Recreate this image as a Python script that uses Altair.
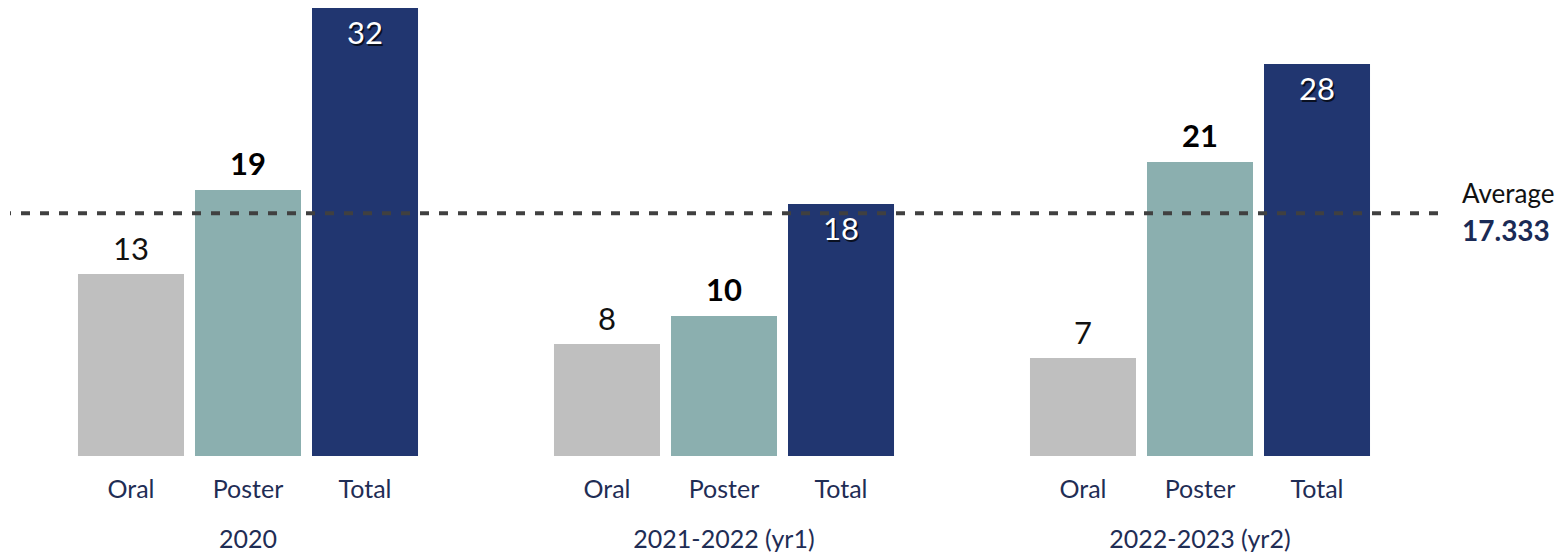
import altair as alt
import pandas as pd

years = ["2020", "2021-2022 (yr1)", "2022-2023 (yr2)"]
types = ["Oral", "Poster", "Total"]
oral = [13, 8, 7]
poster = [19, 10, 21]
total = [32, 18, 28]
average = 17.333

rows = []
for i, yr in enumerate(years):
    rows.append({"year": yr, "type": "Oral", "value": oral[i]})
    rows.append({"year": yr, "type": "Poster", "value": poster[i]})
    rows.append({"year": yr, "type": "Total", "value": total[i]})
df = pd.DataFrame(rows)
df["avg"] = average

NAVY = "#213670"
LABEL_NAVY = "#1f2d55"
FONT = "Lato"

x = alt.X("type:N", sort=types, title=None,
          scale=alt.Scale(paddingInner=0.094, paddingOuter=0.581),
          axis=alt.Axis(labelAngle=0, domain=False, ticks=False, labelPadding=21,
                        labelFontSize=25, labelColor=LABEL_NAVY, labelFont=FONT))
y = alt.Y("value:Q", scale=alt.Scale(domain=[0, 32], nice=False), axis=None)

base = alt.Chart().encode(x=x, y=y)

bars = base.mark_bar().encode(
    color=alt.Color("type:N", sort=types, legend=None,
                    scale=alt.Scale(domain=types, range=["#bfbfbf", "#8bafaf", NAVY]))
)

oral_lbl = base.transform_filter("datum.type == 'Oral'").mark_text(
    baseline="alphabetic", dy=-14, fontSize=31, font=FONT, color="#111111"
).encode(text="value:Q")

poster_lbl = base.transform_filter("datum.type == 'Poster'").mark_text(
    baseline="alphabetic", dy=-15, fontSize=31, font=FONT, fontWeight="bold", color="#000000"
).encode(text="value:Q")

total_shadow = base.transform_filter("datum.type == 'Total'").mark_text(
    baseline="alphabetic", dy=38, dx=1.5, fontSize=31, font=FONT, color="#000000", opacity=0.7
).encode(text="value:Q")

total_lbl = base.transform_filter("datum.type == 'Total'").mark_text(
    baseline="alphabetic", dy=36, fontSize=31, font=FONT, color="#ffffff"
).encode(text="value:Q")

rule = alt.Chart().transform_filter("datum.type == 'Oral'").mark_rule(
    strokeDash=[9, 10], strokeWidth=4, color="#404040"
).encode(y=alt.Y("avg:Q", scale=alt.Scale(domain=[0, 32], nice=False), axis=None))

last = years[-1]
avg_word = alt.Chart().transform_filter(
    f"datum.type == 'Oral' && datum.year == '{last}'"
).transform_calculate(label="'Average'").mark_text(
    align="left", baseline="middle", dy=-18, fontSize=26, font=FONT, color="#111111"
).encode(x=alt.value(500), y=alt.Y("avg:Q", axis=None), text="label:N")

avg_val = alt.Chart().transform_filter(
    f"datum.type == 'Oral' && datum.year == '{last}'"
).mark_text(
    align="left", baseline="middle", dy=20, fontSize=28, font=FONT, fontWeight="bold", color="#1a2a55"
).encode(x=alt.value(500), y=alt.Y("avg:Q", axis=None), text=alt.Text("avg:Q", format=".3f"))

layered = alt.layer(
    bars, rule, oral_lbl, poster_lbl, total_shadow, total_lbl, avg_word, avg_val, data=df
).properties(width=476, height=448)

chart = layered.facet(
    column=alt.Column("year:N", sort=years, title=None,
                      header=alt.Header(labelOrient="bottom", labelFontSize=25,
                                        labelColor=LABEL_NAVY, labelFont=FONT,
                                        labelPadding=26)),
    spacing=0,
).properties(padding=0, bounds="flush").configure_view(stroke=None)

chart.save("out.html", embed_options={"renderer": "svg", "actions": False})
